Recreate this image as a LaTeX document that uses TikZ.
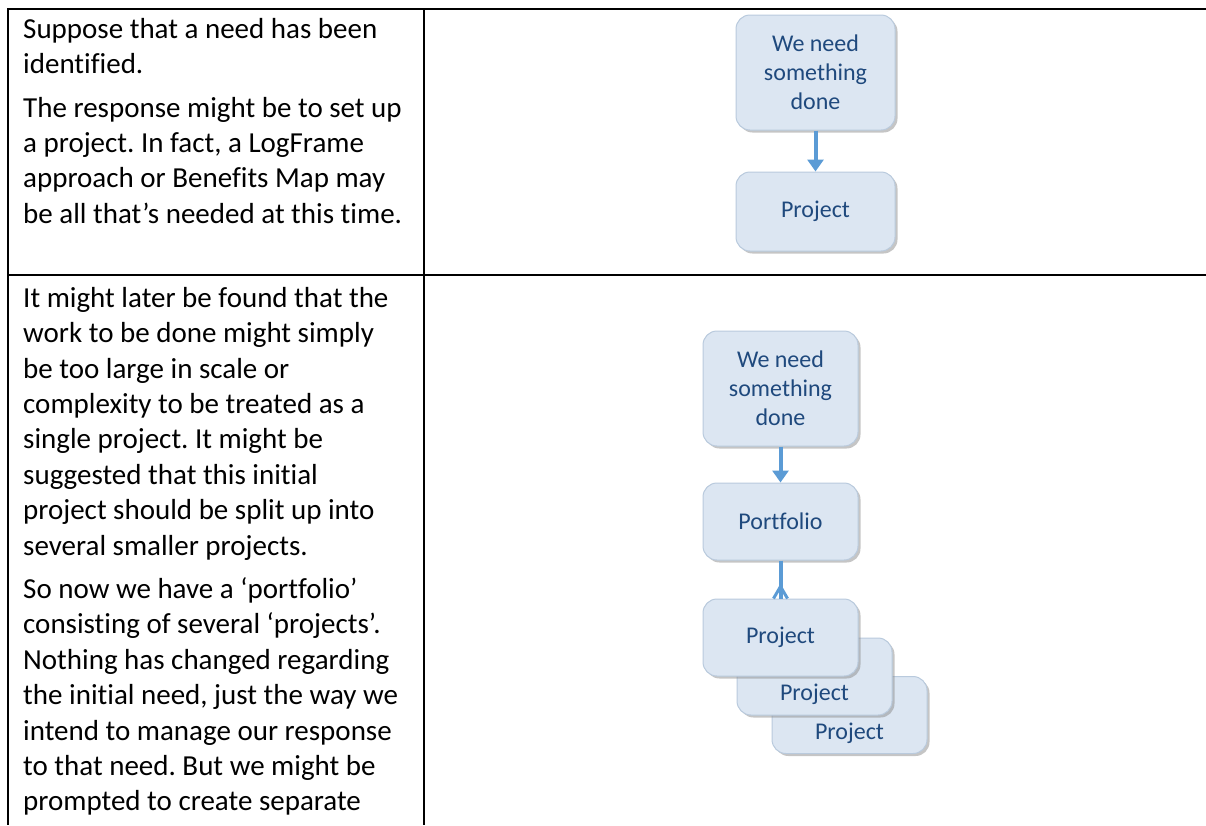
\documentclass[tikz,border=0pt]{standalone}
\usepackage{fontspec}
\setmainfont{Carlito}[Ligatures=NoCommon]
\usetikzlibrary{arrows.meta,shadows}
\frenchspacing

\definecolor{boxfill}{HTML}{DCE6F2}
\definecolor{boxline}{HTML}{B9CADD}
\definecolor{boxtext}{HTML}{1F497D}
\definecolor{flowblue}{HTML}{5B9BD5}

\tikzset{
  stage/.style={draw=boxline, line width=1pt, fill=boxfill, rounded corners=14pt,
    text=boxtext, font=\fontsize{24}{29}\selectfont, align=center, inner sep=0pt,
    minimum width=155pt, minimum height=77pt,
    drop shadow={shadow xshift=2.5pt, shadow yshift=-2.5pt, fill=black!45, opacity=0.5}},
  tall/.style={minimum height=115pt},
  lowtext/.style={text height=48pt, text depth=0pt},
  link/.style={draw=flowblue, line width=4pt},
  tip/.style={-{Triangle[length=12pt,width=16pt]}},
  rule/.style={line width=2pt},
  note/.style={anchor=north west, inner sep=0pt, align=left,
    font=\fontsize{29}{35.4}\selectfont}
}

\begin{document}
\begin{tikzpicture}[x=1pt,y=-1pt]
\useasboundingbox (0,0) rectangle (1206,825);

% table rules
\draw[rule] (7,9) -- (1206,9);
\draw[rule] (7,275) -- (1206,275);
\draw[rule] (8,8) -- (8,825);
\draw[rule] (424,9) -- (424,825);

% first row: a need and a project
\node[note] (text1) at (23,18) {Suppose that a need has been\\
  identified.\\[8pt]
  The response might be to set up\\
  a project. In fact, a LogFrame\\
  approach or Benefits Map may\\
  be all that’s needed at this time.};

\node[stage,tall,minimum width=159pt] (need1) at (815.5,72.5) {We need\\ something\\ done};
\node[stage,minimum width=159pt,minimum height=79pt] (proj) at (815.5,211.5) {Project};
\draw[link,tip] (need1) -- (proj);

% second row: the portfolio splits into projects
\node[note] (text2) at (23,287) {It might later be found that the\\
  work to be done might simply\\
  be too large in scale or\\
  complexity to be treated as a\\
  single project. It might be\\
  suggested that this initial\\
  project should be split up into\\
  several smaller projects.\\[8pt]
  So now we have a ‘portfolio’\\
  consisting of several ‘projects’.\\
  Nothing has changed regarding\\
  the initial need, just the way we\\
  intend to manage our response\\
  to that need. But we might be\\
  prompted to create separate};

\node[stage,tall] (need2) at (780.5,388.5) {We need\\ something\\ done};
\node[stage] (port) at (780.5,521.5) {Portfolio};
\node[stage,lowtext] (proj3) at (849.5,715) {Project};
\node[stage,lowtext] (proj2) at (814.5,676.5) {Project};
\node[stage] (proj1) at (780.5,637.5) {Project};

\draw[link,tip] (need2) -- (port);
\draw[link] (port) -- (proj1);
% crow's foot on the project end
\coordinate (fork) at ([yshift=12pt]proj1.north);
\draw[link,line width=3pt] (fork) -- ([xshift=-7pt]proj1.north);
\draw[link,line width=3pt] (fork) -- ([xshift=7pt]proj1.north);

\end{tikzpicture}
\end{document}
